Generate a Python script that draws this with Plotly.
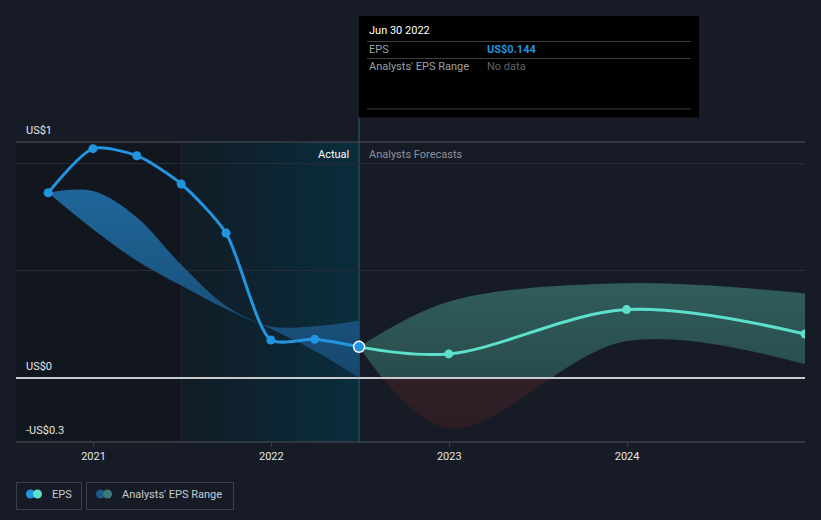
import plotly.graph_objects as go

# ---------------- data ----------------
past_dates = ["2020-09-30", "2020-12-31", "2021-03-31", "2021-06-30",
              "2021-09-30", "2021-12-31", "2022-03-31", "2022-06-30"]
past_eps = [0.863, 1.069, 1.036, 0.904, 0.675, 0.176, 0.179, 0.144]

past_range_a = [0.863, 0.871, 0.748, 0.527, 0.335, 0.228, 0.125, 0.0]
past_range_b = [0.863, 0.693, 0.546, 0.430, 0.321, 0.239, 0.240, 0.266]

fc_dates = ["2022-06-30", "2022-12-31", "2023-12-31", "2024-12-31"]
fc_eps = [0.144, 0.111, 0.318, 0.204]
fc_high = [0.144, 0.355, 0.441, 0.393]
fc_low = [0.144, -0.236, 0.171, 0.063]

x_ticks = ["2021-01-01", "2022-01-01", "2023-01-01", "2024-01-01"]
x_tick_labels = ["2021", "2022", "2023", "2024"]
y_labels = ["US$1", "US$0", "-US$0.3"]

X_RANGE = ["2020-07-26", "2024-12-31"]
Y_MIN, Y_MAX = -0.3, 1.1
HL_START, HL_END = "2021-06-30", "2022-06-30"

# ---------------- style ----------------
PAGE_BG = "#161b26"
DARK_BG = "#12161e"
BLUE = "#2394df"
TEAL = "#5de0cb"
FONT = "Roboto"

W, H = 821, 520
ML, MR, MT, MB = 16, 16, 142, 78
PW, PH = W - ML - MR, H - MT - MB


def px(x):
    return (x - ML) / PW


def py(y):
    return (H - MB - y) / PH


Z = -Y_MIN / (Y_MAX - Y_MIN)  # paper fraction of zero line

fig = go.Figure()

# ---- background subplot (y): highlight gradient + separators ----
fig.add_trace(go.Scatter(x=[HL_START, HL_END, HL_END, HL_START, HL_START],
                         y=[Y_MIN, Y_MIN, Y_MAX, Y_MAX, Y_MIN], mode="lines",
                         line=dict(width=0), fill="toself",
                         fillgradient=dict(type="horizontal", colorscale=[[0, "#111c25"], [1, "#0a2d3d"]]),
                         xaxis="x", yaxis="y", hoverinfo="skip", showlegend=False))
fig.add_trace(go.Scatter(x=[HL_START, HL_START], y=[Y_MIN, Y_MAX], mode="lines",
                         line=dict(color="#1b2b35", width=1),
                         xaxis="x", yaxis="y", hoverinfo="skip", showlegend=False))
fig.add_trace(go.Scatter(x=[HL_END, HL_END], y=[Y_MIN, Y_MAX], mode="lines",
                         line=dict(color="#25495a", width=1.5),
                         xaxis="x", yaxis="y", hoverinfo="skip", showlegend=False))

# ---- forecast range above zero (teal), clipped by subplot domain (y2) ----
fig.add_trace(go.Scatter(x=fc_dates, y=fc_high, mode="lines", line=dict(width=0, shape="spline"),
                         xaxis="x", yaxis="y2", hoverinfo="skip", showlegend=False))
fig.add_trace(go.Scatter(x=fc_dates, y=fc_low, mode="lines", line=dict(width=0, shape="spline"),
                         fill="tonexty",
                         fillgradient=dict(type="vertical", colorscale=[[0, "#244343"], [1, "#305d5c"]]),
                         xaxis="x", yaxis="y2", hoverinfo="skip", showlegend=False))
# ---- forecast range below zero (red), subplot y3 ----
fig.add_trace(go.Scatter(x=fc_dates, y=fc_high, mode="lines", line=dict(width=0, shape="spline"),
                         xaxis="x", yaxis="y3", hoverinfo="skip", showlegend=False))
fig.add_trace(go.Scatter(x=fc_dates, y=fc_low, mode="lines", line=dict(width=0, shape="spline"),
                         fill="tonexty",
                         fillgradient=dict(type="vertical", colorscale=[[0, "#2b1d24"], [1, "#3d242b"]]),
                         xaxis="x", yaxis="y3", hoverinfo="skip", showlegend=False))

# ---- main subplot (y4) ----
fig.add_trace(go.Scatter(x=past_dates, y=past_range_a, mode="lines", line=dict(width=0, shape="spline"),
                         xaxis="x", yaxis="y4", hoverinfo="skip", showlegend=False))
fig.add_trace(go.Scatter(x=past_dates, y=past_range_b, mode="lines", line=dict(width=0, shape="spline"),
                         fill="tonexty",
                         fillgradient=dict(type="vertical", colorscale=[[0, "#17476d"], [1, "#1f6699"]]),
                         xaxis="x", yaxis="y4", hoverinfo="skip", showlegend=False))

fig.add_trace(go.Scatter(x=fc_dates, y=fc_eps, mode="lines+markers",
                         line=dict(color=TEAL, width=3, shape="spline"),
                         marker=dict(size=9, color=TEAL),
                         xaxis="x", yaxis="y4", hoverinfo="skip", showlegend=False))
fig.add_trace(go.Scatter(x=past_dates, y=past_eps, mode="lines+markers",
                         line=dict(color=BLUE, width=3, shape="spline", smoothing=0.7),
                         marker=dict(size=9, color=BLUE),
                         xaxis="x", yaxis="y4", hoverinfo="skip", showlegend=False))
fig.add_trace(go.Scatter(x=[past_dates[-1]], y=[past_eps[-1]], mode="markers",
                         marker=dict(size=11, color=BLUE, line=dict(color="#ffffff", width=1.5)),
                         xaxis="x", yaxis="y4", hoverinfo="skip", showlegend=False))

shapes = []
# dark left region
shapes.append(dict(type="rect", xref="x", yref="paper", x0=X_RANGE[0], x1=HL_START, y0=0, y1=1,
                   fillcolor=DARK_BG, line=dict(width=0), layer="below"))
# frame lines top / bottom
for yv in (0, 1):
    shapes.append(dict(type="line", xref="paper", yref="paper", x0=0, x1=1, y0=yv, y1=yv,
                       line=dict(color="#3b414b", width=1.5), layer="above"))
# separator continuation above the plot up to the tooltip
shapes.append(dict(type="line", xref="x", yref="paper", x0=HL_END, x1=HL_END, y0=1, y1=py(117),
                   line=dict(color="#25495a", width=1.5), layer="below"))

# tooltip box
shapes.append(dict(type="rect", xref="paper", yref="paper", x0=px(359), x1=px(699), y0=py(117.5), y1=py(16),
                   fillcolor="#000000", line=dict(width=0), layer="above"))
for yy in (41.5, 58.5, 109):
    shapes.append(dict(type="line", xref="paper", yref="paper", x0=px(367), x1=px(691), y0=py(yy), y1=py(yy),
                       line=dict(color="#3f3f3f", width=1), layer="above"))

# legend boxes and icons
for (bx0, bx1) in ((16.5, 81.5), (86.5, 233.5)):
    shapes.append(dict(type="rect", xref="paper", yref="paper", x0=px(bx0), x1=px(bx1), y0=py(509.5), y1=py(482.5),
                       fillcolor="rgba(0,0,0,0)", line=dict(color="#3b414b", width=1), layer="above"))
R = 4.5
for (cx, col) in ((30.5, BLUE), (37.5, TEAL), (100.5, "#1d5a8a"), (107.5, "#3a7a76")):
    shapes.append(dict(type="circle", xref="paper", yref="paper", x0=px(cx - R), x1=px(cx + R),
                       y0=py(494 + R), y1=py(494 - R), fillcolor=col, line=dict(width=0), layer="above"))

annotations = []


def text(t, x, y, color, size=11, anchor="left", bold=False):
    annotations.append(dict(text=("<b>%s</b>" % t) if bold else t, xref="paper", yref="paper",
                            x=px(x), y=py(y), xanchor=anchor, yanchor="middle", showarrow=False,
                            font=dict(family=FONT, size=size, color=color)))


text(y_labels[0], 24, 130, "#e8e8e8")
text(y_labels[1], 24, 366, "#e8e8e8")
text(y_labels[2], 24, 430, "#e8e8e8")
text("Actual", 351, 154, "#ffffff", anchor="right")
text("Analysts Forecasts", 367, 154, "#8d929b")
text("Jun 30 2022", 367, 31, "#ffffff")
text("EPS", 367, 49.5, "#9aa0a6")
text("US$0.144", 485, 49.5, BLUE, bold=True)
text("Analysts' EPS Range", 367, 66.5, "#9aa0a6")
text("No data", 485, 66.5, "#5f6368")
text("EPS", 50, 494, "#c8ccd2")
text("Analysts' EPS Range", 120, 494, "#c8ccd2")

hidden = dict(visible=False, anchor="x", fixedrange=True, showgrid=False, zeroline=False)
fig.update_layout(
    width=W, height=H,
    margin=dict(l=ML, r=MR, t=MT, b=MB, pad=0),
    paper_bgcolor=PAGE_BG, plot_bgcolor="rgba(0,0,0,0)",
    hovermode=False, showlegend=False,
    font=dict(family=FONT, color="#e0e0e0"),
    xaxis=dict(type="date", range=X_RANGE, anchor="y4", showgrid=False, zeroline=False, showline=False,
               tickvals=x_ticks, ticktext=x_tick_labels, ticks="outside", ticklen=4, tickcolor="#3b414b",
               tickfont=dict(family=FONT, size=11, color="#e6e6e6"), fixedrange=True),
    yaxis=dict(domain=[0, 1], range=[Y_MIN, Y_MAX], **hidden),
    yaxis2=dict(domain=[Z, 1], range=[0, Y_MAX], **hidden),
    yaxis3=dict(domain=[0, Z], range=[Y_MIN, 0], **hidden),
    yaxis4=dict(domain=[0, 1], range=[Y_MIN, Y_MAX], anchor="x", showticklabels=False,
                showgrid=True, gridcolor="#252c37", gridwidth=1, tickvals=[0.5, 1],
                zeroline=True, zerolinecolor="#c9cbcf", zerolinewidth=2, showline=False, fixedrange=True),
    shapes=shapes, annotations=annotations,
)

fig.write_html("out.html", config={"displayModeBar": False},
               post_script="document.body.style.margin='0';document.body.style.background='%s';" % PAGE_BG)
